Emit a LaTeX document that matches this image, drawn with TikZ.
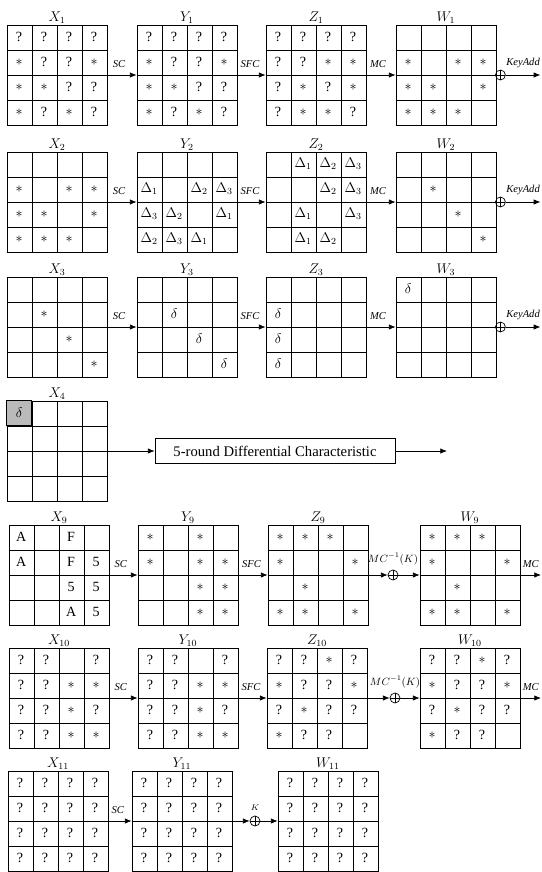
\documentclass[tikz,border=0pt]{standalone}
\usepackage{fontspec}
\setmainfont{Liberation Serif}
\usepackage{tikz}
\usetikzlibrary{positioning,calc,arrows.meta}

% one row of a 4x4 state: state name, row, entries
\newcommand{\staterow}[3]{%
	\foreach \ent [count=\col] in {#3}{
		\node[cell] (#1-#2-\col) at ($(#1.north west)+(\col*25-12.5,#2*25-12.5)$) {\ent};
	}%
}

\begin{document}
\begin{tikzpicture}[
		x=0.3mm,
		y=-0.3mm,
		>=Latex,
		statebox/.style={
			draw,
			line width=0.7pt,
			minimum size=30mm,
			inner sep=0pt,
			path picture={
				\foreach \k in {1,2,3}{
					\draw[line width=0.7pt] ($(path picture bounding box.north west)+(\k*25,0)$) -- ++(0,100);
					\draw[line width=0.7pt] ($(path picture bounding box.north west)+(0,\k*25)$) -- ++(100,0);
				}
			}
		},
		cell/.style={inner sep=0pt, minimum size=7.5mm, font=\fontsize{12}{14}\selectfont},
		statelbl/.style={inner sep=0.6pt, font=\fontsize{12}{14}\selectfont},
		xorsym/.style={
			circle,
			draw,
			line width=0.6pt,
			minimum size=3mm,
			inner sep=0pt,
			path picture={
				\draw[line width=0.6pt] (path picture bounding box.north) -- (path picture bounding box.south)
				(path picture bounding box.west) -- (path picture bounding box.east);
			}
		},
		arrow/.style={-{Latex[length=2mm,width=1.6mm]}, line width=0.6pt},
		oplbl/.style={font=\itshape\fontsize{9}{10}\selectfont, inner sep=1pt},
		dcbox/.style={draw, line width=0.6pt, minimum width=72mm, minimum height=7.5mm, inner sep=0pt, font=\fontsize{12.5}{14}\selectfont}
	]
	
	% Page
	\useasboundingbox (0,0) rectangle (542,872);
	
	% States
	\node[statebox] (X1) at (57,75) {};
	\node[statebox] (Y1) at (187,75) {};
	\node[statebox] (Z1) at (316,75) {};
	\node[statebox] (W1) at (446,75) {};
	
	\node[statebox] (X2) at (57,202) {};
	\node[statebox] (Y2) at (187,202) {};
	\node[statebox] (Z2) at (316,202) {};
	\node[statebox] (W2) at (446,202) {};
	
	\node[statebox] (X3) at (57,327) {};
	\node[statebox] (Y3) at (187,327) {};
	\node[statebox] (Z3) at (316,327) {};
	\node[statebox] (W3) at (446,327) {};
	
	\node[statebox] (X4) at (57,451) {};
	
	\node[statebox] (X9) at (59,575) {};
	\node[statebox] (Y9) at (188,575) {};
	\node[statebox] (Z9) at (318,575) {};
	\node[statebox] (W9) at (470,575) {};
	
	\node[statebox] (X10) at (59,698) {};
	\node[statebox] (Y10) at (188,698) {};
	\node[statebox] (Z10) at (317,698) {};
	\node[statebox] (W10) at (470,698) {};
	
	\node[statebox] (X11) at (58,821) {};
	\node[statebox] (Y11) at (182,821) {};
	\node[statebox] (W11) at (328,821) {};
	
	% State names
	\foreach \n/\s in {X1/X_1,Y1/Y_1,Z1/Z_1,W1/W_1,X2/X_2,Y2/Y_2,Z2/Z_2,W2/W_2,
		X3/X_3,Y3/Y_3,Z3/Z_3,W3/W_3,X4/X_4,X9/X_9,Y9/Y_9,Z9/Z_9,W9/W_9,
		X10/X_{10},Y10/Y_{10},Z10/Z_{10},W10/W_{10},X11/X_{11},Y11/Y_{11},W11/W_{11}}{
		\node[statelbl, above=0pt of \n] (l\n) {$\s$};
	}
	
	% Round 1
	\staterow{X1}{1}{?,?,?,?}
	\staterow{X1}{2}{$*$,?,?,$*$}
	\staterow{X1}{3}{$*$,$*$,?,?}
	\staterow{X1}{4}{$*$,?,$*$,?}
	\staterow{Y1}{1}{?,?,?,?}
	\staterow{Y1}{2}{$*$,?,?,$*$}
	\staterow{Y1}{3}{$*$,$*$,?,?}
	\staterow{Y1}{4}{$*$,?,$*$,?}
	\staterow{Z1}{1}{?,?,?,?}
	\staterow{Z1}{2}{?,?,$*$,$*$}
	\staterow{Z1}{3}{?,$*$,?,$*$}
	\staterow{Z1}{4}{?,$*$,$*$,?}
	\staterow{W1}{2}{$*$,{},$*$,$*$}
	\staterow{W1}{3}{$*$,$*$,{},$*$}
	\staterow{W1}{4}{$*$,$*$,$*$,{}}
	
	% Round 2
	\staterow{X2}{2}{$*$,{},$*$,$*$}
	\staterow{X2}{3}{$*$,$*$,{},$*$}
	\staterow{X2}{4}{$*$,$*$,$*$,{}}
	\staterow{Y2}{2}{$\Delta_1$,{},$\Delta_2$,$\Delta_3$}
	\staterow{Y2}{3}{$\Delta_3$,$\Delta_2$,{},$\Delta_1$}
	\staterow{Y2}{4}{$\Delta_2$,$\Delta_3$,$\Delta_1$,{}}
	\staterow{Z2}{1}{{},$\Delta_1$,$\Delta_2$,$\Delta_3$}
	\staterow{Z2}{2}{{},{},$\Delta_2$,$\Delta_3$}
	\staterow{Z2}{3}{{},$\Delta_1$,{},$\Delta_3$}
	\staterow{Z2}{4}{{},$\Delta_1$,$\Delta_2$,{}}
	\staterow{W2}{2}{{},$*$,{},{}}
	\staterow{W2}{3}{{},{},$*$,{}}
	\staterow{W2}{4}{{},{},{},$*$}
	
	% Round 3
	\staterow{X3}{2}{{},$*$,{},{}}
	\staterow{X3}{3}{{},{},$*$,{}}
	\staterow{X3}{4}{{},{},{},$*$}
	\staterow{Y3}{2}{{},$\delta$,{},{}}
	\staterow{Y3}{3}{{},{},$\delta$,{}}
	\staterow{Y3}{4}{{},{},{},$\delta$}
	\staterow{Z3}{2}{$\delta$}
	\staterow{Z3}{3}{$\delta$}
	\staterow{Z3}{4}{$\delta$}
	\staterow{W3}{1}{$\delta$}
	
	% Round 4
	\node[cell, draw, line width=0.7pt, fill=black!27] (X4-1-1) at ($(X4.north west)+(12.5,12.5)$) {$\delta$};
	\node[dcbox] (dc) at (275,451) {5-round Differential Characteristic};
	
	% Round 9
	\staterow{X9}{1}{A,{},F,{}}
	\staterow{X9}{2}{A,{},F,5}
	\staterow{X9}{3}{{},{},5,5}
	\staterow{X9}{4}{{},{},A,5}
	\staterow{Y9}{1}{$*$,{},$*$,{}}
	\staterow{Y9}{2}{$*$,{},$*$,$*$}
	\staterow{Y9}{3}{{},{},$*$,$*$}
	\staterow{Y9}{4}{{},{},$*$,$*$}
	\staterow{Z9}{1}{$*$,$*$,$*$,{}}
	\staterow{Z9}{2}{$*$,{},{},$*$}
	\staterow{Z9}{3}{{},$*$,{},{}}
	\staterow{Z9}{4}{$*$,$*$,{},$*$}
	\staterow{W9}{1}{$*$,$*$,$*$,{}}
	\staterow{W9}{2}{$*$,{},{},$*$}
	\staterow{W9}{3}{{},$*$,{},{}}
	\staterow{W9}{4}{$*$,$*$,{},$*$}
	
	% Round 10
	\staterow{X10}{1}{?,?,{},?}
	\staterow{X10}{2}{?,?,$*$,$*$}
	\staterow{X10}{3}{?,?,$*$,?}
	\staterow{X10}{4}{?,?,$*$,$*$}
	\staterow{Y10}{1}{?,?,{},?}
	\staterow{Y10}{2}{?,?,$*$,$*$}
	\staterow{Y10}{3}{?,?,$*$,?}
	\staterow{Y10}{4}{?,?,$*$,$*$}
	\staterow{Z10}{1}{?,?,$*$,?}
	\staterow{Z10}{2}{$*$,?,?,$*$}
	\staterow{Z10}{3}{?,$*$,?,?}
	\staterow{Z10}{4}{$*$,?,?,{}}
	\staterow{W10}{1}{?,?,$*$,?}
	\staterow{W10}{2}{$*$,?,?,$*$}
	\staterow{W10}{3}{?,$*$,?,?}
	\staterow{W10}{4}{$*$,?,?,{}}
	
	% Round 11
	\foreach \n in {X11,Y11,W11}{
		\foreach \r in {1,2,3,4}{
			\staterow{\n}{\r}{?,?,?,?}
		}
	}
	
	% Key additions
	\node[xorsym] (k9) at (393,575) {};
	\node[xorsym] (k10) at (395,698) {};
	\node[xorsym] (k11) at (255,821) {};
	\coordinate (o4) at (447,451);
	\coordinate (o9) at (541,575);
	\coordinate (o10) at (541,698);
	
	% Arrows
	\foreach \r in {1,2,3}{
		\draw[arrow] (X\r) -- node[oplbl, above=5pt, pos=0.4] (sc\r) {SC} (Y\r);
		\draw[arrow] (Y\r) -- node[oplbl, above=5pt, pos=0.45] (sfc\r) {SFC} (Z\r);
		\draw[arrow] (Z\r) -- node[oplbl, above=5pt, pos=0.4] (mc\r) {MC} (W\r);
		\node[xorsym] (k\r) at ($(W\r.east)+(4,0)$) {};
		\coordinate (o\r) at ($(W\r.east)+(44,0)$);
		\draw[arrow] (k\r) -- node[oplbl, above=5pt] (ka\r) {KeyAdd} (o\r);
	}
	
	\draw[arrow] (X4) -- (dc);
	\draw[arrow] (dc) -- (o4);
	
	\foreach \r in {9,10}{
		\draw[arrow] (X\r) -- node[oplbl, above=5pt, pos=0.4] (sc\r) {SC} (Y\r);
		\draw[arrow] (Y\r) -- node[oplbl, above=5pt, pos=0.45] (sfc\r) {SFC} (Z\r);
		\draw[arrow] (Z\r) -- (k\r);
		\draw[arrow] (k\r) -- (W\r);
		\node[oplbl, above=3pt of k\r] (mk\r) {$MC^{-1}(K)$};
		\draw[arrow] (W\r) -- node[oplbl, above=5pt] (mc\r) {MC} (o\r);
	}
	
	\draw[arrow] (X11) -- node[oplbl, above=5pt, pos=0.4] (sc11) {SC} (Y11);
	\draw[arrow] (Y11) -- (k11);
	\draw[arrow] (k11) -- (W11);
	\node[oplbl, font=\itshape\fontsize{7}{8}\selectfont, above=3pt of k11] (mk11) {$K$};
	
\end{tikzpicture}
\end{document}
